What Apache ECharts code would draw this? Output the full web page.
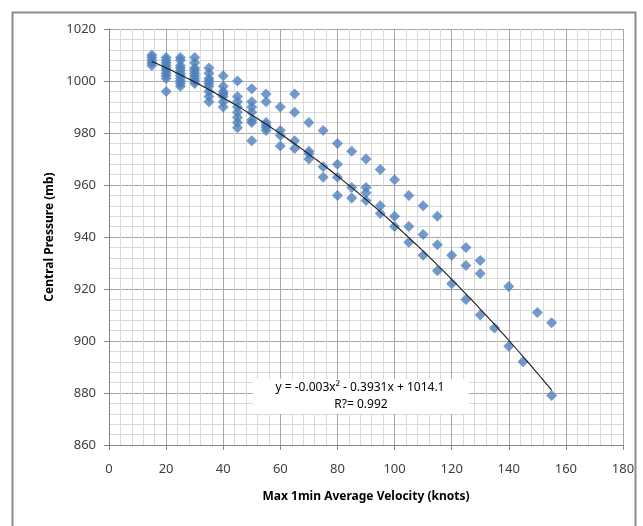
<!DOCTYPE html>
<html>
<head>
<meta charset="utf-8">
<script src="https://cdn.jsdelivr.net/npm/echarts@6/dist/echarts.min.js"></script>
<style>
html,body{margin:0;padding:0;background:#fff;}
#c{width:643px;height:526px;}
</style>
</head>
<body>
<div id="c"></div>
<script>
// Observations: [max 1-min velocity (knots), central pressure (mb)]
const velocities = [15,15,15,15,15,
  20,20,20,20,20,20,20,20,20,20,
  25,25,25,25,25,25,25,25,25,25,25,
  30,30,30,30,30,30,30,30,30,
  35,35,35,35,35,35,35,35,35,
  40,40,40,40,40,40,40,
  45,45,45,45,45,45,45,45,
  50,50,50,50,50,50,50,
  55,55,55,55,55,55,
  60,60,60,60,
  65,65,65,65,
  70,70,70,70,
  75,75,75,
  80,80,80,80,
  85,85,85,
  90,90,90,90,
  95,95,95,
  100,100,100,
  105,105,105,
  110,110,110,
  115,115,115,
  120,120,
  125,125,125,
  130,130,130,
  135,
  140,140,
  145,
  150,
  155,155];
const pressures = [1010,1009,1008,1007,1006,
  1009,1008,1007,1006,1005,1004,1003,1002,1001,996,
  1009,1008,1006,1005,1004,1003,1002,1001,1000,999,998,
  1009,1007,1005,1004,1003,1002,1001,1000,999,
  1005,1003,1001,1000,999,998,996,994,992,
  1002,998,996,995,994,992,990,
  1000,994,992,990,988,986,984,982,
  997,992,990,988,985,984,977,
  995,992,984,983,982,981,
  990,981,979,975,
  995,988,977,974,
  984,973,972,970,
  981,967,963,
  976,968,963,956,
  973,959,955,
  970,959,957,954,
  966,952,949,
  962,948,944,
  956,944,938,
  952,941,933,
  948,937,927,
  933,922,
  936,929,916,
  931,926,910,
  905,
  921,898,
  892,
  911,
  907,879];

// Polynomial trendline as printed on the chart: y = a x^2 + b x + c
const trendCoef = [-0.003, -0.3931, 1014.1];
const trendRange = [15, 155];
const trendLabel = ['y = -0.003x\u00B2 - 0.3931x + 1014.1', 'R?= 0.992'];

const xTicks = {min: 0, max: 180, interval: 20};
const yTicks = {min: 860, max: 1020, interval: 20};

const scatterData = velocities.map((v, i) => [v, pressures[i]]);
const trendData = [];
for (let x = trendRange[0]; x <= trendRange[1]; x += 1) {
  trendData.push([x, trendCoef[0]*x*x + trendCoef[1]*x + trendCoef[2]]);
}

const chart = echarts.init(document.getElementById('c'), null, {renderer: 'canvas'});
const FONT = 'Noto Sans';
const axisCommon = {
  axisLine: {show: true, lineStyle: {color: '#868686', width: 1}},
  axisTick: {show: true, length: 5, lineStyle: {color: '#868686'}},
  minorTick: {show: true, splitNumber: 5, length: 0},
  splitLine: {show: true, lineStyle: {color: '#a6a6a6', width: 1}},
  minorSplitLine: {show: true, lineStyle: {color: '#d9d9d9', width: 1}},
  axisLabel: {color: '#404040', fontFamily: FONT, fontSize: 13, formatter: v => String(v)}
};

chart.setOption({
  backgroundColor: '#fff',
  animation: false,
  grid: {left: 109, top: 29, right: 20, bottom: 81, containLabel: false},
  xAxis: Object.assign({}, axisCommon, {
    type: 'value', min: xTicks.min, max: xTicks.max, interval: xTicks.interval,
    name: 'Max 1min Average Velocity (knots)', nameLocation: 'middle', nameGap: 46,
    nameTextStyle: {fontFamily: FONT, fontWeight: 'bold', fontSize: 12, color: '#000'},
    axisLabel: Object.assign({}, axisCommon.axisLabel, {margin: 18})
  }),
  yAxis: Object.assign({}, axisCommon, {
    type: 'value', min: yTicks.min, max: yTicks.max, interval: yTicks.interval,
    name: 'Central Pressure (mb)', nameLocation: 'middle', nameGap: 49, nameRotate: 90,
    nameTextStyle: {fontFamily: FONT, fontWeight: 'bold', fontSize: 12, color: '#000'},
    axisLabel: Object.assign({}, axisCommon.axisLabel, {margin: 13})
  }),
  series: [
    {
      type: 'scatter', data: scatterData, symbol: 'diamond', symbolSize: [11, 11],
      itemStyle: {color: '#4f81bd'}, z: 3
    },
    {
      type: 'line', data: trendData, showSymbol: false, symbol: 'none',
      lineStyle: {color: '#1a1a1a', width: 1.1}, z: 4, silent: true
    }
  ],
  graphic: [
    {type: 'rect', left: 10, top: 10, shape: {width: 623, height: 530},
     style: {fill: 'none', stroke: '#8c8c8c', lineWidth: 2}, z: 100, silent: true},
    {type: 'rect', left: 253, top: 379, shape: {width: 216, height: 35},
     style: {fill: '#fff'}, z: 50},
    {type: 'text', x: 360, y: 388, z: 51,
     style: {text: trendLabel[0], fill: '#000', font: '12px "Noto Sans"', align: 'center', verticalAlign: 'middle'}},
    {type: 'text', x: 361, y: 405, z: 51,
     style: {text: trendLabel[1], fill: '#000', font: '12px "Noto Sans"', align: 'center', verticalAlign: 'middle'}}
  ]
});
</script>
</body>
</html>
